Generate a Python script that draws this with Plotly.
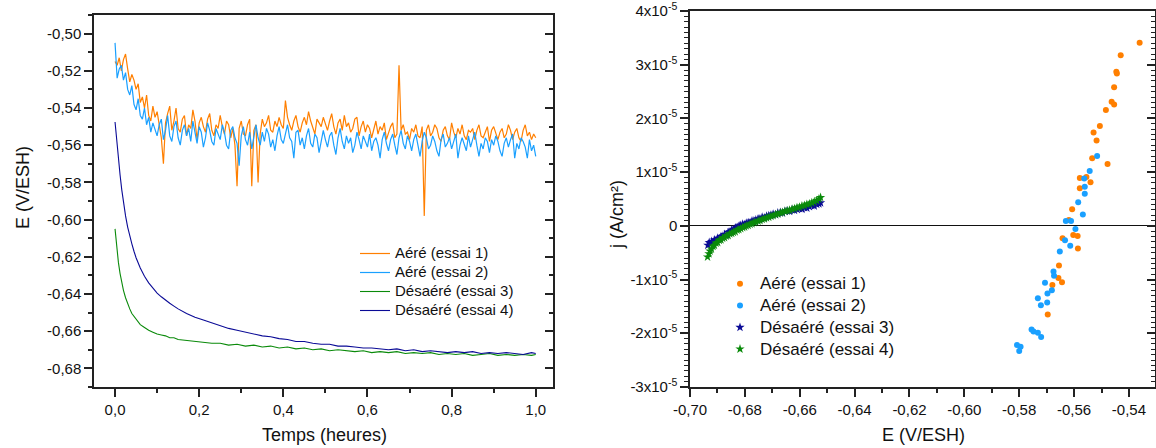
import plotly.graph_objects as go

W, H = 1156, 448
FONT = "Liberation Sans, Arial, sans-serif"
OFF = 0  # body margin removed in the page (see write_html)

# ---------------- Left chart: E vs time ----------------
t_aere = [round(i * 0.005, 3) for i in range(201)]  # sampling times (h)
E_essai1_mV = [
    -515, -517, -513, -520, -514, -511, -519, -526, -522, -525,
    -530, -527, -537, -534, -540, -533, -544, -547, -539, -545,
    -542, -550, -556, -570, -548, -543, -539, -552, -547, -540,
    -551, -553, -546, -544, -555, -549, -551, -541, -547, -557,
    -548, -545, -550, -553, -546, -543, -552, -555, -549, -551,
    -544, -550, -554, -547, -549, -556, -551, -560, -582, -551,
    -547, -554, -555, -549, -546, -582, -552, -549, -580, -554,
    -546, -550, -548, -544, -552, -553, -547, -550, -545, -549,
    -551, -536, -545, -549, -552, -547, -544, -550, -553, -548,
    -545, -549, -542, -547, -551, -554, -546, -548, -550, -545,
    -549, -552, -547, -543, -550, -554, -548, -546, -552, -544,
    -550, -548, -553, -551, -546, -545, -555, -550, -547, -553,
    -549, -551, -556, -552, -547, -554, -550, -552, -548, -557,
    -553, -550, -548, -556, -554, -517, -552, -549, -554, -553,
    -557, -551, -553, -549, -555, -556, -550, -598, -552, -549,
    -555, -553, -549, -551, -556, -558, -552, -550, -555, -557,
    -548, -553, -556, -551, -554, -549, -555, -557, -552, -553,
    -551, -557, -552, -549, -555, -556, -553, -550, -558, -552,
    -550, -554, -557, -553, -551, -556, -554, -549, -552, -557,
    -553, -551, -556, -558, -552, -549, -555, -553, -557, -554,
    -556,
]
E_essai2_mV = [
    -505, -524, -519, -517, -525, -521, -530, -533, -528, -538,
    -541, -535, -544, -546, -540, -549, -545, -553, -548, -551,
    -555, -549, -546, -557, -552, -544, -555, -558, -550, -547,
    -556, -560, -552, -549, -555, -551, -558, -547, -554, -559,
    -550, -553, -561, -556, -548, -552, -558, -560, -551, -554,
    -557, -549, -553, -560, -562, -552, -550, -556, -559, -571,
    -555, -550, -557, -560, -553, -562, -555, -549, -556, -560,
    -553, -558, -551, -554, -561, -557, -563, -555, -550, -557,
    -559, -554, -549, -556, -558, -567, -553, -552, -560, -556,
    -562, -555, -551, -559, -561, -554, -556, -564, -558, -552,
    -557, -561, -555, -553, -560, -565, -556, -551, -558, -562,
    -555, -559, -556, -564, -560, -553, -557, -562, -555, -558,
    -561, -554, -563, -558, -556, -560, -567, -557, -553, -559,
    -563, -557, -554, -560, -565, -556, -552, -559, -562, -555,
    -558, -563, -557, -554, -560, -566, -558, -553, -556, -562,
    -560, -555, -558, -563, -566, -557, -554, -561, -559, -556,
    -562, -558, -554, -567, -560, -556, -559, -563, -555, -561,
    -557, -553, -560, -566, -559, -562, -556, -558, -564, -557,
    -560, -555, -558, -563, -566, -559, -556, -561, -557, -554,
    -567, -559, -562, -556, -558, -561, -567, -557, -563, -560,
    -566,
]
t_desaere = [0, 0.004, 0.008, 0.012, 0.016, 0.02, 0.025, 0.03, 0.035, 0.04, 0.045, 0.05,
             0.06, 0.07, 0.08, 0.09, 0.10, 0.11, 0.12, 0.13, 0.14, 0.15,
             0.17, 0.19, 0.21, 0.23, 0.25, 0.27, 0.29, 0.31, 0.33, 0.35, 0.37, 0.39,
             0.41, 0.43, 0.45, 0.47, 0.49, 0.51, 0.53, 0.55, 0.57, 0.59, 0.61, 0.63,
             0.65, 0.67, 0.69, 0.71, 0.73, 0.75, 0.77, 0.79, 0.81, 0.83, 0.85, 0.87,
             0.89, 0.91, 0.93, 0.95, 0.97, 0.99, 1.0]
E_essai3_mV = [-605, -615, -623, -629, -634, -638, -642, -645.5, -648, -650.5, -652, -654,
               -656.5, -658, -659.5, -660.5, -661.5, -662, -662.5, -663.5, -663.5, -664.5,
               -665, -665.5, -666, -666.5, -666.5, -667.5, -667, -668, -667.5, -668.5, -668, -669,
               -668.5, -669.5, -669, -670, -669.5, -670.5, -670, -670.5, -671, -670.5, -671.5, -671,
               -671.5, -671, -672, -671.5, -672, -671.5, -672.5, -672, -672.5, -672, -673, -672.5,
               -672, -673, -672.5, -673, -672.5, -673, -672.5]
E_essai4_mV = [-547.5, -558, -567, -576, -584, -591, -598, -604, -609, -613, -617, -620.5,
               -626, -630.5, -634, -637, -639.5, -641.5, -643.5, -645, -646.5, -648,
               -650.5, -652.5, -654, -655.5, -657, -658.5, -659.5, -660.5, -661.5, -662.5, -663, -664,
               -664.5, -665.5, -665.5, -666.5, -667, -667, -668, -668, -668.5, -669, -669, -669.5,
               -670, -669.5, -670.5, -670, -671, -670.5, -671, -671.5, -671, -671.5, -671, -672,
               -671.5, -672, -671.5, -672, -672.5, -671.5, -672]

left_y_ticks = [-0.68, -0.66, -0.64, -0.62, -0.60, -0.58, -0.56, -0.54, -0.52, -0.50]
left_y_labels = ["-0,68", "-0,66", "-0,64", "-0,62", "-0,60", "-0,58", "-0,56", "-0,54", "-0,52", "-0,50"]
left_x_ticks = [0.0, 0.2, 0.4, 0.6, 0.8, 1.0]
left_x_labels = ["0,0", "0,2", "0,4", "0,6", "0,8", "1,0"]

# ---------------- Right chart: j vs E ----------------
E_aere1 = [-0.5361, -0.5430, -0.5446, -0.5444, -0.5454, -0.5463, -0.5454, -0.5484, -0.5506, -0.5529,
           -0.5518, -0.5534, -0.5478, -0.5579, -0.5555, -0.5540, -0.5579, -0.5607, -0.5619, -0.5642,
           -0.5603, -0.5587, -0.5586, -0.5655, -0.5657, -0.5644, -0.5679, -0.5696]
j_aere1_e6 = [34.1, 31.8, 28.7, 28.4, 25.8, 23.1, 22.6, 21.6, 18.6, 17.4,
              15.9, 12.6, 11.5, 8.9, 9.1, 8.1, 7.0, 3.1, 1.1, -2.3,
              -1.7, -1.9, -4.2, -7.4, -9.7, -10.5, -11.0, -16.5]
E_aere2 = [-0.5516, -0.5543, -0.5563, -0.5561, -0.5561, -0.5585, -0.5568, -0.5630, -0.5611, -0.5595,
           -0.5633, -0.5614, -0.5652, -0.5675, -0.5673, -0.5706, -0.5681, -0.5697, -0.5732, -0.5698,
           -0.5721, -0.5755, -0.5748, -0.5732, -0.5720, -0.5808, -0.5795, -0.5800]
j_aere2_e6 = [13.0, 10.2, 8.8, 7.3, 6.0, 4.4, 2.1, 0.9, 0.9, -0.6,
              -2.7, -3.7, -4.8, -8.5, -9.3, -10.6, -12.0, -12.6, -13.5, -14.3,
              -14.8, -19.3, -19.7, -19.9, -20.7, -22.2, -22.5, -23.3]
E_desaere3 = [-0.6935, -0.6930, -0.6926, -0.6921, -0.6915, -0.6910, -0.6904, -0.6899, -0.6893, -0.6887,
              -0.6880, -0.6874, -0.6867, -0.6861, -0.6854, -0.6848, -0.6841, -0.6835, -0.6828, -0.6821,
              -0.6815, -0.6808, -0.6801, -0.6795, -0.6788, -0.6781, -0.6774, -0.6767, -0.6760, -0.6752,
              -0.6745, -0.6737, -0.6729, -0.6721, -0.6713, -0.6705, -0.6697, -0.6688, -0.6680, -0.6671,
              -0.6663, -0.6654, -0.6646, -0.6637, -0.6628, -0.6619, -0.6610, -0.6601, -0.6592, -0.6583,
              -0.6574, -0.6565, -0.6556, -0.6547, -0.6538, -0.6530, -0.6524]
j_desaere3_e6 = [-3.6, -3.1, -3.4, -2.9, -3.0, -2.6, -2.7, -2.3, -2.4, -2.0,
                 -1.9, -1.6, -1.7, -1.2, -1.1, -0.8, -0.7, -0.4, -0.3, 0.0,
                 0.1, 0.3, 0.2, 0.5, 0.6, 0.6, 0.9, 0.9, 1.1, 1.3,
                 1.3, 1.6, 1.5, 1.8, 1.9, 2.0, 2.2, 2.1, 2.4, 2.5,
                 2.4, 2.7, 2.8, 2.7, 3.0, 2.9, 3.1, 3.2, 3.1, 3.4,
                 3.3, 3.6, 3.8, 3.7, 4.0, 4.1, 4.3]
E_desaere4 = [-0.6936, -0.6931, -0.6927, -0.6922, -0.6916, -0.6911, -0.6905, -0.6899, -0.6893, -0.6887,
              -0.6881, -0.6874, -0.6868, -0.6861, -0.6855, -0.6848, -0.6842, -0.6835, -0.6828, -0.6822,
              -0.6815, -0.6808, -0.6801, -0.6795, -0.6788, -0.6781, -0.6774, -0.6767, -0.6760, -0.6752,
              -0.6745, -0.6737, -0.6729, -0.6721, -0.6713, -0.6705, -0.6697, -0.6688, -0.6680, -0.6671,
              -0.6663, -0.6654, -0.6646, -0.6637, -0.6628, -0.6619, -0.6610, -0.6601, -0.6592, -0.6583,
              -0.6574, -0.6565, -0.6556, -0.6547, -0.6538, -0.6530, -0.6524]
j_desaere4_e6 = [-5.8, -5.2, -4.7, -4.3, -3.8, -3.6, -3.2, -3.1, -2.7, -2.6,
                 -2.3, -2.2, -1.9, -1.8, -1.5, -1.4, -1.2, -1.1, -0.8, -0.7,
                 -0.5, -0.3, -0.2, 0.0, 0.1, 0.3, 0.4, 0.6, 0.7, 0.9,
                 1.0, 1.2, 1.3, 1.5, 1.6, 1.8, 1.9, 2.1, 2.2, 2.4,
                 2.5, 2.7, 2.8, 2.9, 3.1, 3.2, 3.4, 3.5, 3.7, 3.8,
                 4.0, 4.1, 4.3, 4.5, 4.7, 5.0, 5.3]

right_x_ticks = [-0.70, -0.68, -0.66, -0.64, -0.62, -0.60, -0.58, -0.56, -0.54]
right_x_labels = ["-0,70", "-0,68", "-0,66", "-0,64", "-0,62", "-0,60", "-0,58", "-0,56", "-0,54"]
right_y_ticks = [-3e-5, -2e-5, -1e-5, 0, 1e-5, 2e-5, 3e-5, 4e-5]
right_y_labels = ["-3x10<sup>-5</sup>", "-2x10<sup>-5</sup>", "-1x10<sup>-5</sup>", "0",
                  "1x10<sup>-5</sup>", "2x10<sup>-5</sup>", "3x10<sup>-5</sup>", "4x10<sup>-5</sup>"]

names = ["Aéré (essai 1)", "Aéré (essai 2)", "Désaéré (essai 3)", "Désaéré (essai 4)"]
C_OR, C_BL, C_GR, C_NV = "#FF7F00", "#1AA0FF", "#0A8A0A", "#0A0A96"

mv = lambda L: [v / 1000 for v in L]
e6 = lambda L: [v * 1e-6 for v in L]
fx = lambda p: (p - OFF) / W
fy = lambda p: 1 - (p - OFF) / H
lg1 = lambda s: '<span style="font-size:15px">%s</span>' % s
lg2 = lambda s: '<span style="font-size:17px">%s</span>' % s

fig = go.Figure()
# left
fig.add_trace(go.Scatter(x=t_aere, y=mv(E_essai1_mV), mode="lines", name=lg1(names[0]),
                         line=dict(color=C_OR, width=1.2), xaxis="x", yaxis="y", legend="legend"))
fig.add_trace(go.Scatter(x=t_aere, y=mv(E_essai2_mV), mode="lines", name=lg1(names[1]),
                         line=dict(color=C_BL, width=1.2), xaxis="x", yaxis="y", legend="legend"))
fig.add_trace(go.Scatter(x=t_desaere, y=mv(E_essai3_mV), mode="lines", name=lg1(names[2]),
                         line=dict(color=C_GR, width=1.1), xaxis="x", yaxis="y", legend="legend"))
fig.add_trace(go.Scatter(x=t_desaere, y=mv(E_essai4_mV), mode="lines", name=lg1(names[3]),
                         line=dict(color=C_NV, width=1.1), xaxis="x", yaxis="y", legend="legend"))
# right
fig.add_trace(go.Scatter(x=E_aere1, y=e6(j_aere1_e6), mode="markers", name=lg2(names[0]),
                         marker=dict(color=C_OR, size=6, symbol="circle"), xaxis="x2", yaxis="y2", legend="legend2"))
fig.add_trace(go.Scatter(x=E_aere2, y=e6(j_aere2_e6), mode="markers", name=lg2(names[1]),
                         marker=dict(color=C_BL, size=6, symbol="circle"), xaxis="x2", yaxis="y2", legend="legend2"))
fig.add_trace(go.Scatter(x=E_desaere3, y=e6(j_desaere3_e6), mode="markers", name=lg2(names[2]),
                         marker=dict(color=C_NV, size=7, symbol="star"), xaxis="x2", yaxis="y2", legend="legend2"))
fig.add_trace(go.Scatter(x=E_desaere4, y=e6(j_desaere4_e6), mode="markers", name=lg2(names[3]),
                         marker=dict(color=C_GR, size=7, symbol="star"), xaxis="x2", yaxis="y2", legend="legend2"))

LX = [fx(94), fx(553)]
RX = [fx(690), fx(1155)]
LY = [fy(387), fy(15)]
RY = [fy(387), fy(11)]
tickfont = dict(family=FONT, size=15, color="#111")
axc = "#222"

common = dict(showgrid=False, zeroline=False, showline=True, linecolor=axc, linewidth=1.5,
              ticks="outside", tickwidth=1.5, ticklen=8, tickcolor=axc, tickfont=tickfont,
              automargin=False, ticklabeloverflow="allow")

YR2 = [-3.002e-5, 4.002e-5]

fig.update_layout(
    width=W, height=H, margin=dict(l=0, r=0, t=0, b=0, autoexpand=False),
    paper_bgcolor="white", plot_bgcolor="white",
    font=dict(family=FONT, size=15, color="#111"),
    xaxis=dict(domain=LX, anchor="y", range=[-0.05, 1.041], mirror=True,
               tickmode="array", tickvals=left_x_ticks, ticktext=left_x_labels,
               minor=dict(tickmode="linear", tick0=0, dtick=0.1, ticks="outside", ticklen=4,
                          tickwidth=1.5, tickcolor=axc), **common),
    yaxis=dict(domain=LY, anchor="x", range=[-0.69, -0.49], mirror=True,
               tickmode="array", tickvals=left_y_ticks, ticktext=left_y_labels,
               minor=dict(tickmode="linear", tick0=0, dtick=0.01, ticks="outside", ticklen=4,
                          tickwidth=1.5, tickcolor=axc), **common),
    yaxis3=dict(overlaying="y", anchor="x", side="right", range=[-0.69, -0.49], showgrid=False,
                zeroline=False, showline=False, showticklabels=False, ticks="inside", ticklen=8,
                tickwidth=1.5, tickcolor=axc, tickmode="array", tickvals=left_y_ticks, automargin=False,
                minor=dict(tickmode="linear", tick0=0, dtick=0.01, ticks="inside", ticklen=4,
                           tickwidth=1.5, tickcolor=axc)),
    xaxis2=dict(domain=RX, anchor="y2", range=[-0.70, -0.5305], mirror=True,
                tickmode="array", tickvals=right_x_ticks, ticktext=right_x_labels,
                minor=dict(tickmode="linear", tick0=0, dtick=0.01, ticks="outside", ticklen=4,
                           tickwidth=1.5, tickcolor=axc), **common),
    yaxis2=dict(domain=RY, anchor="x2", range=YR2, mirror=True,
                tickmode="array", tickvals=right_y_ticks, ticktext=right_y_labels,
                minor=dict(tickmode="linear", tick0=0, dtick=1e-6, ticks="outside", ticklen=4,
                           tickwidth=1.2, tickcolor=axc),
                **{**common, "zeroline": True}, zerolinecolor="#111", zerolinewidth=1.3),
    yaxis4=dict(overlaying="y2", anchor="x2", side="right", range=YR2, showgrid=False,
                zeroline=False, showline=False, showticklabels=False, ticks="inside", ticklen=8,
                tickwidth=1.5, tickcolor=axc, tickmode="array", tickvals=right_y_ticks, automargin=False,
                minor=dict(tickmode="linear", tick0=0, dtick=1e-6, ticks="inside", ticklen=4,
                           tickwidth=1.2, tickcolor=axc)),
    legend=dict(x=fx(355), y=fy(239), xanchor="left", yanchor="top", bgcolor="rgba(0,0,0,0)",
                font=dict(family=FONT, size=12, color="#111"), tracegroupgap=0, itemwidth=30),
    legend2=dict(x=fx(720), y=fy(268), xanchor="left", yanchor="top", bgcolor="rgba(0,0,0,0)",
                 font=dict(family=FONT, size=14.4, color="#111"), tracegroupgap=0, itemwidth=30),
    showlegend=True,
)

# empty traces so the overlay tick axes are drawn
fig.add_trace(go.Scatter(x=[None], y=[None], xaxis="x", yaxis="y3", showlegend=False, hoverinfo="skip"))
fig.add_trace(go.Scatter(x=[None], y=[None], xaxis="x2", yaxis="y4", showlegend=False, hoverinfo="skip"))

title_font = dict(family=FONT, size=18, color="#111")
fig.add_annotation(text="E (V/ESH)", x=fx(23), y=fy(188), xref="paper", yref="paper",
                   textangle=-90, showarrow=False, font=title_font, xanchor="center", yanchor="middle")
fig.add_annotation(text="Temps (heures)", x=fx(324), y=fy(435), xref="paper", yref="paper",
                   showarrow=False, font=title_font, xanchor="center", yanchor="middle")
fig.add_annotation(text="j (A/cm²)", x=fx(617), y=fy(215), xref="paper", yref="paper",
                   textangle=-90, showarrow=False, font=title_font, xanchor="center", yanchor="middle")
fig.add_annotation(text="E (V/ESH)", x=fx(923), y=fy(435), xref="paper", yref="paper",
                   showarrow=False, font=title_font, xanchor="center", yanchor="middle")

fig.write_html("out.html", config={"displayModeBar": False},
               post_script="document.body.style.margin='0px';")
